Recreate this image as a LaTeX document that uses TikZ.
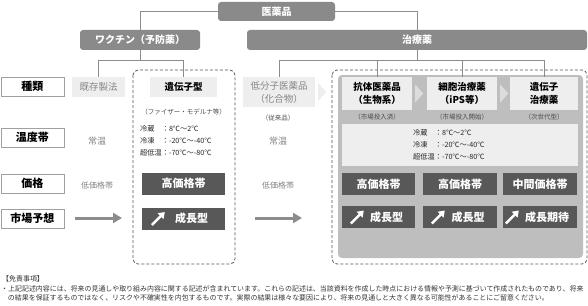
\documentclass[tikz,border=0pt]{standalone}
\usepackage{fontspec}
\setmainfont{Noto Sans CJK JP}
\usetikzlibrary{arrows.meta,positioning,calc}
\definecolor{hdrgray}{HTML}{8A8A8A}
\definecolor{panelc}{HTML}{BEBEBE}
\definecolor{lightbg}{HTML}{EEEEEE}
\definecolor{chevc}{HTML}{DCDCDC}
\definecolor{darkbg}{HTML}{585858}
\definecolor{rulec}{HTML}{A0A0A0}
\definecolor{linec}{HTML}{8C8C8C}
\definecolor{dashc}{HTML}{555555}
\definecolor{faintc}{HTML}{858585}
\newcommand\fs[1]{\fontsize{#1}{13}\selectfont}
\newcommand\tlbl[1]{\makebox[3em][l]{#1}}
\tikzset{
  hdr/.style={fill=hdrgray,rounded corners=3pt,text=white,inner sep=0pt,
    font=\fs{10}\bfseries},
  rowlbl/.style={draw=rulec,line width=0.6pt,fill=white,inner sep=0pt,
    minimum width=63pt,minimum height=19pt,font=\fs{11}\bfseries},
  lbox/.style={fill=lightbg,inner sep=0pt,align=center,font=\fs{9.5}\bfseries},
  lboxf/.style={lbox,text=faintc,font=\fs{9.5}},
  dbox/.style={fill=darkbg,text=white,inner sep=0pt,minimum height=22pt,
    font=\fs{11}\bfseries},
  faint/.style={text=faintc,inner sep=1pt,font=\fs{9}},
  capt/.style={text=black!70,inner sep=1pt,font=\fs{6.5}},
  temps/.style={anchor=west,align=left,inner sep=0pt,text=black!85,
    font=\fontsize{7.2}{12}\selectfont},
  link/.style={draw=linec,line width=0.8pt},
  grp/.style={draw=dashc,line width=0.8pt,dash pattern=on 3pt off 2pt,rounded corners=5pt},
  trendline/.style={draw=linec,line width=3pt,-{Triangle[length=9pt,width=10pt]}},
  notes/.style={anchor=west,inner sep=0pt,text=black!80,font=\fs{6.95}},
}
% white "rising" arrow icon at the left of a growth box
\newcommand\trendicon[2][9]{%
  \draw[white,line width=2.4pt,-{Triangle[length=6pt,width=8pt]}]
    ($(#2.west)+(#1,6.5)$) -- ($(#2.west)+(#1+13,-6.5)$);}
% chevron after a box
\newcommand\chevron[2]{%
  \fill[#2] ($(#1.east)+(3,-9)$) -- ++(8,9) -- ++(-8,9) -- cycle;}

\begin{document}
\begin{tikzpicture}[x=1pt,y=-1pt]
  \useasboundingbox (0,0) rectangle (588,305);
  % groups
  \draw[grp] (133,70) rectangle (235,264);
  \draw[grp] (332,70) rectangle (587,264);
  \fill[panelc,rounded corners=4pt] (338,75) rectangle (583,258);
  % tree
  \node[hdr,minimum width=117pt,minimum height=19pt] (drug) at (276.5,11.5) {医薬品};
  \node[hdr,minimum width=120pt,minimum height=20pt] (vac) at (140,40) {ワクチン（予防薬）};
  \node[hdr,minimum width=340pt,minimum height=20pt] (thr) at (417,40) {治療薬};
  % row labels
  \node[rowlbl] (kind) at (32.3,86.5) {種類};
  \node[rowlbl] (temp) at (32.3,137.5) {温度帯};
  \node[rowlbl] (price) at (32.3,183.5) {価格};
  \node[rowlbl] (market) at (32.3,218.5) {市場予想};
  % vaccines
  \node[lboxf,minimum width=53pt,minimum height=20pt] (old) at (98.5,87) {既存製法};
  \node[faint] at (97,141) {常温};
  \node[faint,font=\fs{8}] at (97,185) {低価格帯};
  \node[lbox,minimum width=67pt,minimum height=20pt] (mrna) at (183.5,87) {遺伝子型};
  \node[capt] at (183.5,112) {（ファイザー・モデルナ等）};
  \node[temps] (vtemp) at (140,141) {\tlbl{冷蔵}：8℃～2℃\\\tlbl{冷凍}：-20℃～-40℃\\\tlbl{超低温}：-70℃～-80℃};
  \node[dbox,minimum width=83pt] (vprice) at (183.5,183.5) {高価格帯};
  \node[dbox,minimum width=83pt] (vgrow) at (183.5,218.5) {\hspace{16pt}成長型};
  \trendicon[10]{vgrow}
  % small molecules
  \node[lboxf,minimum width=72pt,minimum height=30pt] (small) at (279,92) {低分子医薬品\\（化合物）};
  \chevron{small}{lightbg}
  \node[capt] at (278,118) {（従来品）};
  \node[faint] at (278,141) {常温};
  \node[faint,font=\fs{8}] at (278,185) {低価格帯};
  % biologics and beyond
  \node[lbox,minimum width=70pt,minimum height=33pt] (anti) at (377,93.5) {抗体医薬品\\（生物系）};
  \node[lbox,minimum width=70pt,minimum height=33pt] (cell) at (462,93.5) {細胞治療薬\\（iPS等）};
  \node[lbox,minimum width=68pt,minimum height=33pt] (gene) at (544,93.5) {遺伝子\\治療薬};
  \chevron{anti}{chevc}
  \chevron{cell}{chevc}
  \node[capt] at (377,117) {（市場投入済）};
  \node[capt] at (462,117) {（市場投入開始）};
  \node[capt] at (544,117) {（次世代型）};
  \node[lbox,minimum width=236pt,minimum height=42pt] (ttemp) at (460,145) {};
  \node[temps] at (413,145) {\tlbl{冷蔵}：8℃～2℃\\\tlbl{冷凍}：-20℃～-40℃\\\tlbl{超低温}：-70℃～-80℃};
  \node[dbox,minimum width=73pt] (pa) at (378.5,184) {高価格帯};
  \node[dbox,minimum width=74pt] (pc) at (460,184) {高価格帯};
  \node[dbox,minimum width=74pt] (pg) at (540,184) {中間価格帯};
  \node[dbox,minimum width=73pt] (ga) at (378.5,217) {\hspace{16pt}成長型};
  \node[dbox,minimum width=74pt] (gc) at (460,217) {\hspace{16pt}成長型};
  \node[dbox,minimum width=74pt] (gg) at (540,217) {\hspace{14pt}成長期待};
  \foreach \n/\o in {ga/9,gc/9,gg/3} \trendicon[\o]{\n};
  % connectors
  \draw[link] (drug.west) -| (vac.north);
  \draw[link] (drug.east) -| (thr.north);
  \coordinate (vj) at (140,60);
  \coordinate (tj) at (417,60);
  \draw[link] (vac.south) -- (vj);
  \draw[link] (thr.south) -- (tj);
  \foreach \n in {old,mrna} \draw[link] (vj) -| (\n.north);
  \foreach \n in {small,anti,cell,gene} \draw[link] (tj) -| (\n.north);
  \coordinate (m1s) at (75,218);  \coordinate (m1e) at (122,218);
  \coordinate (m2s) at (255,218); \coordinate (m2e) at (302,218);
  \draw[trendline] (m1s) -- (m1e);
  \draw[trendline] (m2s) -- (m2e);
  % disclaimer
  \node[notes] (disc) at (2,279) {【免責事項】};
  \node[notes] (d1) at (1,289) {・上記記述内容には、将来の見通しや取り組み内容に関する記述が含まれています。これらの記述は、当該資料を作成した時点における情報や予測に基づいて作成されたものであり、将来};
  \node[notes] (d2) at (7.8,298) {の結果を保証するものではなく、リスクや不確実性を内包するものです。実際の結果は様々な要因により、将来の見通しと大きく異なる可能性があることにご留意ください。};
\end{tikzpicture}
\end{document}
